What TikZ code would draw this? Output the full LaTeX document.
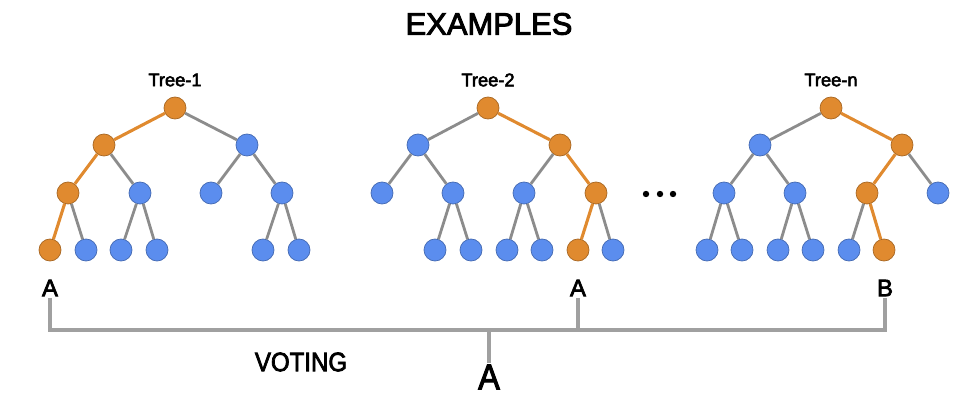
\documentclass[tikz,border=0pt]{standalone}
\usepackage{fontspec}
\setmainfont{Liberation Sans}
\newfontfamily\semibf[RawFeature={embolden=3}]{Liberation Sans}
\usepackage{xcolor}

\definecolor{nodeblue}{HTML}{5B8DEE}
\definecolor{nodeorange}{HTML}{E08A2F}
\definecolor{edgegray}{HTML}{8C8C8C}
\definecolor{linegray}{HTML}{A0A0A0}

\tikzset{
  leaf/.style={circle, fill=nodeblue, draw=nodeblue!75!black, line width=0.5pt, minimum size=0.55cm, inner sep=0pt},
  hit/.style={leaf, fill=nodeorange, draw=nodeorange!75!black},
  branch/.style={draw=edgegray, line width=2pt},
  pick/.style={draw=nodeorange, line width=2.2pt},
  vote/.style={draw=linegray, line width=2.2pt},
  title/.style={font=\semibf\fontsize{13}{13}\selectfont, inner sep=1pt},
  label/.style={font=\semibf\fontsize{17}{17}\selectfont, inner sep=1pt}
}

\begin{document}
\begin{tikzpicture}[x=0.025cm, y=-0.025cm]
        \useasboundingbox (0,0) rectangle (953,400);
        \node[font=\semibf\fontsize{22}{22}\selectfont] (head) at (489,24) {EXAMPLES};
        % tree 1
        \node[title] (tt1) at (175,80) {Tree-1};
        \node[hit] (t1) at (175,108) {};
        \node[hit] (t1l) at (104,145) {};
        \node[leaf] (t1r) at (247,145) {};
        \node[hit] (t1ll) at (68,193) {};
        \node[leaf] (t1lr) at (140,193) {};
        \node[leaf] (t1rl) at (211,193) {};
        \node[leaf] (t1rr) at (282,193) {};
        \node[hit] (t1lll) at (50,250) {};
        \node[leaf] (t1llr) at (86,250) {};
        \node[leaf] (t1lrl) at (121,250) {};
        \node[leaf] (t1lrr) at (157,250) {};
        \node[leaf] (t1rrl) at (263,250) {};
        \node[leaf] (t1rrr) at (299,250) {};
        \draw[pick] (t1) -- (t1l) -- (t1ll) -- (t1lll);
        \draw[branch] (t1) -- (t1r);
        \draw[branch] (t1l) -- (t1lr);
        \draw[branch] (t1r) -- (t1rl);
        \draw[branch] (t1r) -- (t1rr);
        \draw[branch] (t1ll) -- (t1llr);
        \draw[branch] (t1lr) -- (t1lrl);
        \draw[branch] (t1lr) -- (t1lrr);
        \draw[branch] (t1rr) -- (t1rrl);
        \draw[branch] (t1rr) -- (t1rrr);
        % tree 2
        \node[title] (tt2) at (488,80) {Tree-2};
        \node[hit] (t2) at (488,108) {};
        \node[leaf] (t2l) at (418,145) {};
        \node[hit] (t2r) at (560,145) {};
        \node[leaf] (t2ll) at (382,193) {};
        \node[leaf] (t2lr) at (453,193) {};
        \node[leaf] (t2rl) at (524,193) {};
        \node[hit] (t2rr) at (596,193) {};
        \node[leaf] (t2lrl) at (435,250) {};
        \node[leaf] (t2lrr) at (471,250) {};
        \node[leaf] (t2rll) at (507,250) {};
        \node[leaf] (t2rlr) at (542,250) {};
        \node[hit] (t2rrl) at (578,250) {};
        \node[leaf] (t2rrr) at (613,250) {};
        \draw[pick] (t2) -- (t2r) -- (t2rr) -- (t2rrl);
        \draw[branch] (t2) -- (t2l);
        \draw[branch] (t2l) -- (t2ll);
        \draw[branch] (t2l) -- (t2lr);
        \draw[branch] (t2r) -- (t2rl);
        \draw[branch] (t2lr) -- (t2lrl);
        \draw[branch] (t2lr) -- (t2lrr);
        \draw[branch] (t2rl) -- (t2rll);
        \draw[branch] (t2rl) -- (t2rlr);
        \draw[branch] (t2rr) -- (t2rrr);
        % dots
        \fill[black] (646,194) circle (3.2);
        \fill[black] (660,194) circle (3.2);
        \fill[black] (673,194) circle (3.2);
        % tree n
        \node[title] (ttn) at (831,80) {Tree-n};
        \node[hit] (tn) at (831,108) {};
        \node[leaf] (tnl) at (760,145) {};
        \node[hit] (tnr) at (902,145) {};
        \node[leaf] (tnll) at (724,193) {};
        \node[leaf] (tnlr) at (795,193) {};
        \node[hit] (tnrl) at (867,193) {};
        \node[leaf] (tnrr) at (938,193) {};
        \node[leaf] (tnlll) at (707,250) {};
        \node[leaf] (tnllr) at (742,250) {};
        \node[leaf] (tnlrl) at (778,250) {};
        \node[leaf] (tnlrr) at (813,250) {};
        \node[leaf] (tnrll) at (849,250) {};
        \node[hit] (tnrlr) at (884,250) {};
        \draw[pick] (tn) -- (tnr) -- (tnrl) -- (tnrlr);
        \draw[branch] (tn) -- (tnl);
        \draw[branch] (tnl) -- (tnll);
        \draw[branch] (tnl) -- (tnlr);
        \draw[branch] (tnr) -- (tnrr);
        \draw[branch] (tnll) -- (tnlll);
        \draw[branch] (tnll) -- (tnllr);
        \draw[branch] (tnlr) -- (tnlrl);
        \draw[branch] (tnlr) -- (tnlrr);
        \draw[branch] (tnrl) -- (tnrll);
        % voting
        \node[label] (v1) at (50,288) {A};
        \node[label] (v2) at (578,288) {A};
        \node[label] (vn) at (885,288) {B};
        \coordinate (bar) at (489,330);
        \node[font=\semibf\fontsize{23}{23}\selectfont, inner sep=1pt, yscale=1.1] (res) at (489,377) {A};
        \node[font=\semibf\fontsize{19}{19}\selectfont, xscale=0.9] (vote) at (301,362) {VOTING};
        \draw[vote] (v1.south) -- (v1 |- bar) -| (vn.south);
        \draw[vote] (v2.south) -- (v2 |- bar);
        \draw[vote] (bar) -- (res.north);
    \end{tikzpicture}
\end{document}
